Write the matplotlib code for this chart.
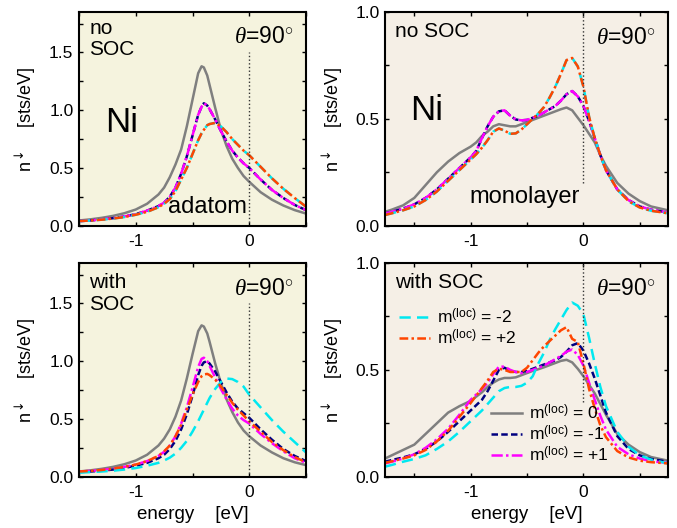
import numpy as np
import matplotlib
matplotlib.use('Agg')
import matplotlib.pyplot as plt

plt.rcParams['font.family'] = ['Liberation Sans', 'DejaVu Sans']
plt.rcParams['mathtext.fontset'] = 'custom'
plt.rcParams['mathtext.rm'] = 'Liberation Sans'
plt.rcParams['mathtext.it'] = 'Liberation Serif:italic'
plt.rcParams['mathtext.bf'] = 'Liberation Sans:bold'
plt.rcParams['mathtext.sf'] = 'DejaVu Sans'
plt.rcParams['axes.unicode_minus'] = False

# ---- adatom (left column), energy in eV ----
e_ad = [-1.5, -1.4, -1.3, -1.2, -1.1, -1.0, -0.9, -0.8, -0.75, -0.7, -0.65, -0.6,
        -0.55, -0.5, -0.45, -0.42, -0.4, -0.37, -0.35, -0.3, -0.25, -0.2, -0.15,
        -0.1, -0.05, 0.0, 0.1, 0.2, 0.3, 0.4, 0.5]

ad_noso_m0 = [0.045, 0.055, 0.068, 0.085, 0.108, 0.14, 0.19, 0.27, 0.33, 0.42, 0.53, 0.66,
              0.86, 1.09, 1.32, 1.38, 1.37, 1.30, 1.22, 1.02, 0.83, 0.69, 0.58,
              0.50, 0.43, 0.38, 0.29, 0.225, 0.175, 0.135, 0.105]
ad_noso_m1 = [0.04, 0.045, 0.055, 0.065, 0.08, 0.10, 0.13, 0.17, 0.20, 0.25, 0.33, 0.45,
              0.60, 0.78, 0.96, 1.03, 1.06, 1.04, 1.01, 0.92, 0.82, 0.73, 0.65,
              0.59, 0.54, 0.50, 0.40, 0.31, 0.24, 0.18, 0.135]
ad_noso_m2 = [0.04, 0.045, 0.052, 0.062, 0.075, 0.095, 0.12, 0.16, 0.19, 0.23, 0.30, 0.40,
              0.50, 0.62, 0.74, 0.80, 0.83, 0.87, 0.88, 0.89, 0.86, 0.81, 0.75,
              0.70, 0.65, 0.61, 0.51, 0.41, 0.32, 0.24, 0.165]

ad_so_m0 = [0.045, 0.055, 0.068, 0.085, 0.108, 0.14, 0.19, 0.27, 0.33, 0.41, 0.52, 0.66,
            0.85, 1.06, 1.26, 1.31, 1.30, 1.24, 1.17, 0.98, 0.81, 0.67, 0.56,
            0.47, 0.40, 0.35, 0.27, 0.21, 0.16, 0.125, 0.10]
ad_so_mm1 = [0.04, 0.045, 0.052, 0.062, 0.076, 0.095, 0.12, 0.16, 0.19, 0.24, 0.31, 0.41,
             0.54, 0.70, 0.88, 0.96, 0.99, 1.00, 0.98, 0.91, 0.82, 0.73, 0.65,
             0.59, 0.55, 0.51, 0.41, 0.32, 0.24, 0.18, 0.135]
ad_so_mp1 = [0.045, 0.05, 0.058, 0.07, 0.085, 0.105, 0.135, 0.18, 0.215, 0.27, 0.35, 0.46,
             0.60, 0.77, 0.95, 1.02, 1.03, 1.00, 0.96, 0.86, 0.76, 0.67, 0.59,
             0.53, 0.49, 0.46, 0.37, 0.29, 0.22, 0.16, 0.12]
ad_so_mm2 = [0.035, 0.04, 0.045, 0.052, 0.062, 0.075, 0.095, 0.12, 0.14, 0.165, 0.20, 0.25,
             0.31, 0.39, 0.48, 0.54, 0.58, 0.64, 0.68, 0.76, 0.82, 0.85, 0.845,
             0.82, 0.78, 0.71, 0.60, 0.49, 0.39, 0.30, 0.21]
ad_so_mp2 = [0.045, 0.05, 0.058, 0.07, 0.085, 0.105, 0.135, 0.18, 0.22, 0.27, 0.35, 0.45,
             0.58, 0.71, 0.82, 0.87, 0.885, 0.89, 0.88, 0.84, 0.78, 0.71, 0.64,
             0.58, 0.53, 0.48, 0.39, 0.30, 0.23, 0.17, 0.125]

# ---- monolayer (right column) ----
e_ml = [-1.76, -1.7, -1.6, -1.5, -1.4, -1.3, -1.2, -1.1, -1.0, -0.95, -0.9, -0.85, -0.8,
        -0.75, -0.7, -0.65, -0.6, -0.55, -0.5, -0.45, -0.4, -0.35, -0.3, -0.25, -0.2,
        -0.15, -0.1, -0.05, 0.0, 0.05, 0.1, 0.15, 0.2, 0.3, 0.4, 0.5, 0.6, 0.75]

ml_noso_m0 = [0.065, 0.075, 0.095, 0.13, 0.19, 0.25, 0.30, 0.34, 0.37, 0.39, 0.42, 0.44, 0.465,
              0.475, 0.47, 0.465, 0.465, 0.475, 0.485, 0.495, 0.505, 0.515, 0.525, 0.535, 0.545,
              0.553, 0.54, 0.505, 0.47, 0.43, 0.39, 0.33, 0.28, 0.20, 0.15, 0.115, 0.09, 0.072]
ml_noso_m1 = [0.057, 0.065, 0.08, 0.10, 0.13, 0.17, 0.22, 0.27, 0.32, 0.35, 0.41, 0.465, 0.51,
              0.535, 0.54, 0.515, 0.497, 0.493, 0.495, 0.505, 0.515, 0.53, 0.545, 0.56, 0.585,
              0.615, 0.63, 0.605, 0.56, 0.49, 0.41, 0.33, 0.26, 0.17, 0.12, 0.09, 0.075, 0.062]
ml_noso_m2 = [0.05, 0.058, 0.072, 0.09, 0.12, 0.16, 0.21, 0.26, 0.31, 0.335, 0.365, 0.40, 0.44,
              0.455, 0.445, 0.43, 0.432, 0.45, 0.475, 0.50, 0.525, 0.555, 0.60, 0.65, 0.71,
              0.775, 0.785, 0.745, 0.65, 0.51, 0.41, 0.33, 0.26, 0.17, 0.115, 0.085, 0.07, 0.058]

ml_so_m0 = [0.085, 0.10, 0.125, 0.15, 0.20, 0.25, 0.30, 0.33, 0.355, 0.375, 0.395, 0.42, 0.44,
            0.455, 0.462, 0.462, 0.465, 0.475, 0.485, 0.495, 0.503, 0.512, 0.522, 0.532, 0.542,
            0.547, 0.535, 0.505, 0.47, 0.43, 0.39, 0.34, 0.29, 0.20, 0.15, 0.115, 0.092, 0.075]
ml_so_mm1 = [0.07, 0.078, 0.09, 0.105, 0.13, 0.165, 0.21, 0.26, 0.31, 0.335, 0.36, 0.40, 0.45,
             0.50, 0.51, 0.495, 0.49, 0.49, 0.495, 0.505, 0.515, 0.525, 0.535, 0.545, 0.56,
             0.585, 0.615, 0.625, 0.59, 0.53, 0.46, 0.38, 0.30, 0.19, 0.13, 0.10, 0.083, 0.07]
ml_so_mp1 = [0.062, 0.07, 0.085, 0.105, 0.135, 0.175, 0.225, 0.29, 0.36, 0.385, 0.41, 0.44, 0.48,
             0.515, 0.515, 0.50, 0.49, 0.485, 0.49, 0.50, 0.51, 0.52, 0.535, 0.55, 0.565,
             0.585, 0.595, 0.57, 0.52, 0.44, 0.36, 0.285, 0.22, 0.14, 0.105, 0.085, 0.072, 0.065]
ml_so_mm2 = [0.047, 0.055, 0.07, 0.083, 0.10, 0.13, 0.165, 0.21, 0.26, 0.285, 0.31, 0.34, 0.37,
             0.40, 0.415, 0.42, 0.42, 0.425, 0.44, 0.47, 0.53, 0.58, 0.64, 0.69, 0.735,
             0.78, 0.815, 0.80, 0.76, 0.65, 0.53, 0.42, 0.33, 0.21, 0.14, 0.10, 0.08, 0.062]
ml_so_mp2 = [0.065, 0.072, 0.085, 0.10, 0.125, 0.165, 0.215, 0.28, 0.345, 0.38, 0.415, 0.45, 0.49,
             0.505, 0.50, 0.49, 0.49, 0.49, 0.51, 0.545, 0.58, 0.61, 0.635, 0.66, 0.685,
             0.70, 0.645, 0.63, 0.53, 0.41, 0.32, 0.24, 0.185, 0.12, 0.09, 0.075, 0.068, 0.062]

# styles per m(loc)
sty = {
    'm0':  dict(color='#7f7f7f', ls='-'),
    'mm1': dict(color='#000080', dashes=(2.6, 1.3)),
    'mp1': dict(color='#ff00ff', dashes=(4.5, 1.3, 1.0, 1.3)),
    'mm2': dict(color='#00e8f0', dashes=(4.5, 2.5)),
    'mp2': dict(color='#ff4500', dashes=(3.5, 1.3, 1.0, 1.3)),
}
lab = {'m0': '0', 'mm1': '-1', 'mp1': '+1', 'mm2': '-2', 'mp2': '+2'}
LW = 1.8

bg_ad = '#f5f3de'
bg_ml = '#f5efe6'

fig = plt.figure(figsize=(6.77, 5.28), dpi=100)
W, H = 677.0, 528.0
def box(x0, y0, x1, y1):
    return [x0 / W, 1 - y1 / H, (x1 - x0) / W, (y1 - y0) / H]

ax_tl = fig.add_axes(box(79, 12, 306, 225.7))
ax_tr = fig.add_axes(box(385, 12, 668, 225.7))
ax_bl = fig.add_axes(box(79, 263, 306, 476.7))
ax_br = fig.add_axes(box(385, 263, 668, 476.7))

panels = [
    (ax_tl, e_ad, {'m0': ad_noso_m0, 'mm1': ad_noso_m1, 'mp1': ad_noso_m1,
                   'mm2': ad_noso_m2, 'mp2': ad_noso_m2}),
    (ax_bl, e_ad, {'m0': ad_so_m0, 'mm1': ad_so_mm1, 'mp1': ad_so_mp1,
                   'mm2': ad_so_mm2, 'mp2': ad_so_mp2}),
    (ax_tr, e_ml, {'m0': ml_noso_m0, 'mm1': ml_noso_m1, 'mp1': ml_noso_m1,
                   'mm2': ml_noso_m2, 'mp2': ml_noso_m2}),
    (ax_br, e_ml, {'m0': ml_so_m0, 'mm1': ml_so_mm1, 'mp1': ml_so_mp1,
                   'mm2': ml_so_mm2, 'mp2': ml_so_mp2}),
]

handles = {}
for ax, e, curves in panels:
    for key in ['m0', 'mm1', 'mp1', 'mm2', 'mp2']:
        ln, = ax.plot(e, curves[key], lw=LW, label='m$^{\\rm (loc)}$ = ' + lab[key], **sty[key])
        handles[key] = ln

for ax in (ax_tl, ax_bl):
    ax.set_facecolor(bg_ad)
    ax.set_xlim(-1.5, 0.5)
    ax.set_ylim(0, 1.85)
    ax.set_yticks([0, 0.25, 0.5, 0.75, 1.0, 1.25, 1.5, 1.75])
    ax.set_yticklabels(['0.0', '', '0.5', '', '1.0', '', '1.5', ''])
    ax.set_xticks([-1.5, -1, -0.5, 0, 0.5])
    ax.set_xticklabels(['', '-1', '', '0', ''])
    ax.vlines(0, 0, 1.5, colors='#333333', linestyles=':', lw=1.0)
    ax.yaxis.set_label_coords(-0.18, 0.5)

for ax in (ax_tr, ax_br):
    ax.set_facecolor(bg_ml)
    ax.set_xlim(-1.76, 0.75)
    ax.set_ylim(0, 1.0)
    ax.set_yticks([0, 0.25, 0.5, 0.75, 1.0])
    ax.set_yticklabels(['0.0', '', '0.5', '', '1.0'])
    ax.set_xticks([-1.5, -1, -0.5, 0, 0.5])
    ax.set_xticklabels(['', '-1', '', '0', ''])
    ax.yaxis.set_label_coords(-0.143, 0.5)
ax_tr.vlines(0, 0.2, 1.0, colors='#333333', linestyles=':', lw=1.0)
ax_br.vlines(0, 0.35, 1.0, colors='#333333', linestyles=':', lw=1.0)

for ax in (ax_tl, ax_tr, ax_bl, ax_br):
    for s in ax.spines.values():
        s.set_linewidth(1.5)
    ax.tick_params(direction='in', top=True, right=True, length=3, width=1.0,
                   labelsize=12.5)
    ax.tick_params(axis='x', pad=6)
    ax.tick_params(axis='y', pad=4)
    ax.set_ylabel('n$^{\\mathsf{\\downarrow}}$    [sts/eV]', fontsize=13)

for ax in (ax_bl, ax_br):
    ax.set_xlabel('energy    [eV]', fontsize=13.5)
    ax.xaxis.set_label_coords(0.5, -0.135)

theta = '$\\theta$=90$^{\\circ}$'
ax_tl.text(0.045, 0.898, 'no', transform=ax_tl.transAxes, fontsize=15, ha='left', va='baseline')
ax_tl.text(0.045, 0.8, 'SOC', transform=ax_tl.transAxes, fontsize=15, ha='left', va='baseline')
ax_tl.text(0.945, 0.855, theta, transform=ax_tl.transAxes, fontsize=16.5, ha='right', va='baseline')
ax_tl.text(0.115, 0.44, 'Ni', transform=ax_tl.transAxes, fontsize=25, ha='left', va='baseline')
ax_tl.text(0.568, 0.058, 'adatom', transform=ax_tl.transAxes, fontsize=17, ha='center', va='baseline')

ax_bl.text(0.045, 0.883, 'with', transform=ax_bl.transAxes, fontsize=15, ha='left', va='baseline')
ax_bl.text(0.045, 0.78, 'SOC', transform=ax_bl.transAxes, fontsize=15, ha='left', va='baseline')
ax_bl.text(0.945, 0.85, theta, transform=ax_bl.transAxes, fontsize=16.5, ha='right', va='baseline')

ax_tr.text(0.035, 0.884, 'no SOC', transform=ax_tr.transAxes, fontsize=15, ha='left', va='baseline')
ax_tr.text(0.955, 0.85, theta, transform=ax_tr.transAxes, fontsize=16.5, ha='right', va='baseline')
ax_tr.text(0.088, 0.494, 'Ni', transform=ax_tr.transAxes, fontsize=25, ha='left', va='baseline')
ax_tr.text(0.495, 0.105, 'monolayer', transform=ax_tr.transAxes, fontsize=17, ha='center', va='baseline')

ax_br.text(0.035, 0.883, 'with SOC', transform=ax_br.transAxes, fontsize=15, ha='left', va='baseline')
ax_br.text(0.955, 0.85, theta, transform=ax_br.transAxes, fontsize=16.5, ha='right', va='baseline')

leg1 = ax_br.legend(handles=[handles['mm2'], handles['mp2']], loc='upper left',
                    bbox_to_anchor=(0.02, 0.835), frameon=False, fontsize=12.5,
                    handlelength=1.75, handletextpad=0.4, labelspacing=0.1, borderpad=0)
ax_br.add_artist(leg1)
ax_br.legend(handles=[handles['m0'], handles['mm1'], handles['mp1']], loc='upper left',
             bbox_to_anchor=(0.345, 0.385), frameon=False, fontsize=12.5,
             handlelength=1.75, handletextpad=0.4, labelspacing=0.1, borderpad=0)

fig.savefig('out.png', dpi=100)
